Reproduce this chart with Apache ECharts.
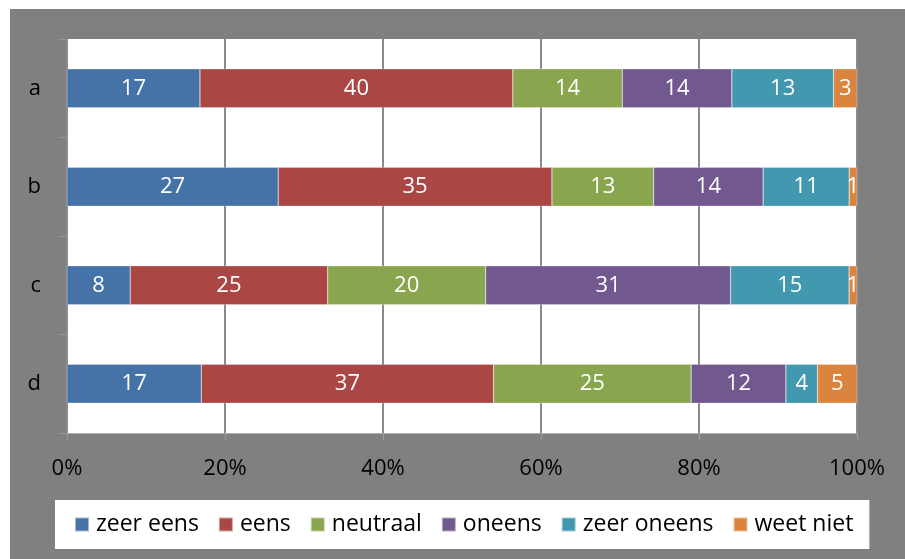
<!DOCTYPE html>
<html>
<head>
<meta charset="utf-8">
<script src="https://cdn.jsdelivr.net/npm/echarts@6/dist/echarts.min.js"></script>
<style>
  html, body { margin: 0; padding: 0; background: #fff; }
  #chart { position: absolute; left: 10px; top: 9px; width: 895px; height: 550px; }
</style>
</head>
<body>
<div id="chart"></div>
<script>
// categorieen (van boven naar beneden)
const categories = ['a', 'b', 'c', 'd'];
const seriesNames = ['zeer eens', 'eens', 'neutraal', 'oneens', 'zeer oneens', 'weet niet'];
const zeerEens = [17, 27, 8, 17];
const eens = [40, 35, 25, 37];
const neutraal = [14, 13, 20, 25];
const oneens = [14, 14, 31, 12];
const zeerOneens = [13, 11, 15, 4];
const weetNiet = [3, 1, 1, 5];
const xTicks = [0, 20, 40, 60, 80, 100];
const colors = ['#4572A7', '#AA4643', '#89A54E', '#71588F', '#4198AF', '#DB843D'];

const rows = [zeerEens, eens, neutraal, oneens, zeerOneens, weetNiet];
const totals = categories.map((c, i) => rows.reduce((s, r) => s + r[i], 0));

const font = '"Open Sans", sans-serif';

const myChart = echarts.init(document.getElementById('chart'));
myChart.setOption({
  backgroundColor: '#808080',
  color: colors,
  textStyle: { fontFamily: font },
  legend: {
    data: seriesNames,
    left: 45,
    top: 491,
    backgroundColor: '#fff',
    padding: [13, 16, 13, 19],
    icon: 'rect',
    itemWidth: 14,
    itemHeight: 14,
    itemGap: 19,
    textStyle: { fontSize: 23, color: '#000', fontFamily: font, padding: [2, 0, 0, 2] }
  },
  grid: {
    show: true,
    backgroundColor: '#fff',
    borderWidth: 0,
    left: 57,
    top: 30,
    width: 790,
    height: 394
  },
  xAxis: {
    type: 'value',
    min: 0,
    max: 100,
    interval: 20,
    axisLine: { show: true, lineStyle: { color: '#b0b0b0', width: 1 } },
    axisTick: { show: true, length: 8, lineStyle: { color: '#9a9a9a' } },
    axisLabel: {
      color: '#000',
      fontSize: 22,
      margin: 25,
      formatter: v => xTicks.includes(v) ? v + '%' : ''
    },
    splitLine: { show: true, lineStyle: { color: '#8a8a8a', width: 2 } }
  },
  yAxis: {
    type: 'category',
    data: categories,
    inverse: true,
    axisLine: { show: true, lineStyle: { color: '#8c8c8c' } },
    axisTick: { show: true, length: 9, lineStyle: { color: '#959595' } },
    axisLabel: { color: '#000', fontSize: 22, margin: 26 }
  },
  series: seriesNames.map((name, k) => ({
    name: name,
    type: 'bar',
    stack: 'totaal',
    barWidth: 39,
    itemStyle: { borderColor: 'rgba(255,255,255,0.5)', borderWidth: 0.5 },
    label: {
      show: true,
      position: 'inside',
      color: '#fff',
      fontSize: 22,
      fontFamily: font,
      formatter: p => rows[k][p.dataIndex]
    },
    data: rows[k].map((v, i) => v / totals[i] * 100)
  }))
});
</script>
</body>
</html>
